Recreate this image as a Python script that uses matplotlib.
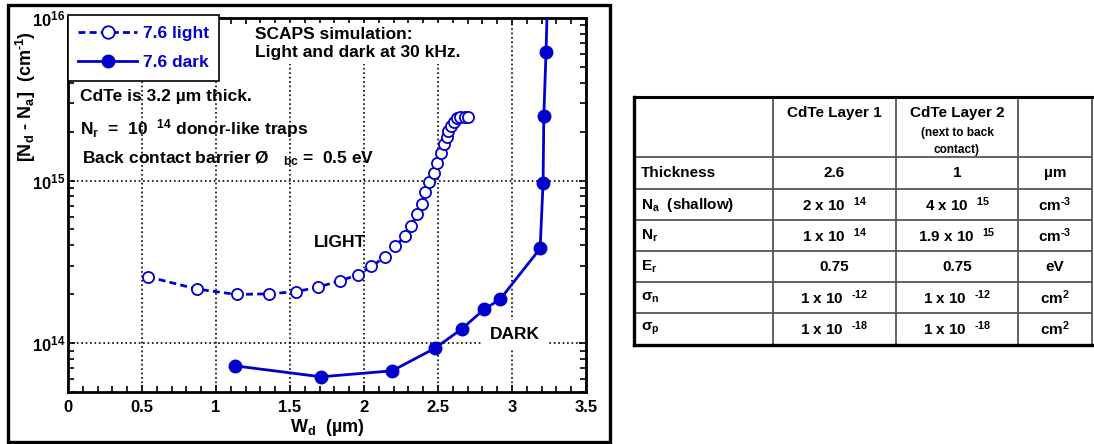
import matplotlib
matplotlib.use("Agg")
import matplotlib.pyplot as plt
from matplotlib.lines import Line2D
from matplotlib.patches import Rectangle
from matplotlib.ticker import MultipleLocator, LogLocator, NullFormatter

plt.rcParams["font.family"] = ["Liberation Sans", "DejaVu Sans"]
plt.rcParams["font.weight"] = "bold"
plt.rcParams["axes.labelweight"] = "bold"
plt.rcParams["mathtext.fontset"] = "custom"
plt.rcParams["mathtext.rm"] = "Liberation Sans:bold"
plt.rcParams["mathtext.bf"] = "Liberation Sans:bold"
plt.rcParams["mathtext.it"] = "Liberation Sans:bold"

BLUE = "#0000cc"
HY = "\u2010"  # plain hyphen for negative exponents

# depletion width (um) and [Nd - Na] (cm^-1), SCAPS at 30 kHz
light_w = [0.54, 0.87, 1.14, 1.36, 1.54, 1.69, 1.84, 1.96, 2.05, 2.14, 2.21, 2.28, 2.32,
           2.36, 2.39, 2.41, 2.44, 2.47, 2.49, 2.52, 2.54, 2.56, 2.57, 2.59, 2.61, 2.63,
           2.65, 2.68, 2.70]
light_n = [2.56e14, 2.15e14, 1.99e14, 2.01e14, 2.07e14, 2.21e14, 2.42e14, 2.63e14, 2.96e14,
           3.38e14, 3.93e14, 4.57e14, 5.27e14, 6.25e14, 7.2e14, 8.5e14, 9.8e14, 1.12e15,
           1.29e15, 1.48e15, 1.67e15, 1.86e15, 2.03e15, 2.18e15, 2.30e15, 2.41e15, 2.47e15,
           2.47e15, 2.45e15]
dark_w = [1.13, 1.71, 2.19, 2.48, 2.66, 2.81, 2.92, 3.19, 3.21, 3.215, 3.23, 3.245]
dark_n = [7.24e13, 6.2e13, 6.75e13, 9.3e13, 1.22e14, 1.61e14, 1.86e14, 3.82e14, 9.7e14,
          2.49e15, 6.2e15, 2e16]

series_labels = ["7.6 light", "7.6 dark"]
x_ticks = [0, 0.5, 1, 1.5, 2, 2.5, 3, 3.5]
x_ticklabels = ["0", "0.5", "1", "1.5", "2", "2.5", "3", "3.5"]
y_ticks = [1e14, 1e15, 1e16]
y_ticklabels = [r"10$^{14}$", r"10$^{15}$", r"10$^{16}$"]

# material parameters table
table_header = ["", "CdTe Layer 1", "CdTe Layer 2", ""]
table_rows = [
    ["Thickness", "2.6", "1", "µm"],
    [r"N$_{a}$  (shallow)", r"2 x 10 $\ ^{14}$", r"4 x 10 $\ ^{15}$", r"cm$^{" + HY + "3}$"],
    [r"N$_{r}$", r"1 x 10 $\ ^{14}$", r"1.9 x 10 $\ ^{15}$", r"cm$^{" + HY + "3}$"],
    [r"E$_{r}$", "0.75", "0.75", "eV"],
    [r"σ$_{n}$", r"1 x 10 $\ ^{" + HY + "12}$", r"1 x 10 $\ ^{" + HY + "12}$", r"cm$^{2}$"],
    [r"σ$_{p}$", r"1 x 10 $\ ^{" + HY + "18}$", r"1 x 10 $\ ^{" + HY + "18}$", r"cm$^{2}$"],
]

W, H = 1094, 444
fig = plt.figure(figsize=(W / 100, H / 100), dpi=100)

# pixel-space overlay for the frame and the table
ov = fig.add_axes([0, 0, 1, 1])
ov.set_xlim(0, W)
ov.set_ylim(H, 0)
ov.axis("off")
ov.add_patch(Rectangle((8, 5), 602, 437, fill=False, lw=2.4, ec="black"))

col_x = [634, 773, 896, 1018, 1092]
row_y = [97, 157, 189, 220, 251, 282, 313, 345]
for x in col_x[1:-1]:
    ov.plot([x, x], [row_y[0], row_y[-1]], color="#555", lw=1.3)
for y in row_y[1:-1]:
    ov.plot([col_x[0], col_x[-1]], [y, y], color="#555", lw=1.3)
ov.plot([col_x[-1], col_x[-1]], [row_y[0], row_y[-1]], color="#555", lw=1.3)
ov.plot([col_x[0], col_x[-1]], [row_y[0], row_y[0]], color="black", lw=2.2)
ov.plot([col_x[0], col_x[-1]], [row_y[-1], row_y[-1]], color="black", lw=2.4)
ov.plot([col_x[0], col_x[0]], [row_y[0], row_y[-1]], color="black", lw=2.4)

for j, txt in enumerate(table_header):
    if txt:
        ov.text((col_x[j] + col_x[j + 1]) / 2, 113, txt, ha="center", va="center", fontsize=11)
ov.text((col_x[2] + col_x[3]) / 2, 133, "(next to back", ha="center", va="center", fontsize=8.5)
ov.text((col_x[2] + col_x[3]) / 2, 150, "contact)", ha="center", va="center", fontsize=8.5)

for i, row in enumerate(table_rows):
    yc = (row_y[i + 1] + row_y[i + 2]) / 2
    ov.text(col_x[0] + 7, yc, row[0], ha="left", va="center", fontsize=11)
    for j in range(1, 4):
        ov.text((col_x[j] + col_x[j + 1]) / 2, yc, row[j], ha="center", va="center", fontsize=11)

# main C-V profile plot
ax = fig.add_axes([68 / W, 1 - 392 / H, 518 / W, 374 / H])
ax.plot(light_w, light_n, color=BLUE, lw=2, ls=(0, (2.5, 1.5)), marker="o", ms=8,
        mfc="white", mec=BLUE, mew=1.3, zorder=4)
ax.plot(dark_w, dark_n, color=BLUE, lw=2, marker="o", ms=9, mfc=BLUE, mec=BLUE, zorder=4)

ax.set_yscale("log")
ax.set_xlim(0, 3.5)
ax.set_ylim(5e13, 1e16)
ax.set_xticks(x_ticks)
ax.set_xticklabels(x_ticklabels, fontsize=12)
ax.xaxis.set_minor_locator(MultipleLocator(0.1))
ax.set_yticks(y_ticks)
ax.set_yticklabels(y_ticklabels, fontsize=12)
ax.yaxis.set_minor_locator(LogLocator(base=10, subs=range(2, 10)))
ax.yaxis.set_minor_formatter(NullFormatter())
ax.tick_params(which="both", direction="in", top=True, right=True, width=1.2)
ax.tick_params(which="major", length=5, pad=6)
ax.tick_params(axis="y", which="major", pad=2)
ax.tick_params(which="minor", length=4)
for sp in ax.spines.values():
    sp.set_linewidth(2)

ax.grid(True, which="major", color="black", ls=":", lw=1.2)

ax.set_xlabel(r"W$_{d}$  (µm)", fontsize=13, labelpad=1)
ax.set_ylabel(r"[N$_{d}$ - N$_{a}$]  (cm$^{" + HY + "1}$)", fontsize=13)
ax.yaxis.set_label_coords(-0.058, 0.79)

handles = [
    Line2D([], [], color=BLUE, lw=2, ls=(0, (2.5, 1.5)), marker="o", ms=9, mfc="white",
           mec=BLUE, mew=1.3),
    Line2D([], [], color=BLUE, lw=2, marker="o", ms=9, mfc=BLUE, mec=BLUE),
]
leg = ax.legend(handles, series_labels, loc="upper left", bbox_to_anchor=(0, 1.008),
                borderaxespad=0, fancybox=False, edgecolor="black", framealpha=1,
                fontsize=12.5, handlelength=3.4, numpoints=1, borderpad=0.6, labelspacing=0.85,
                handletextpad=0.3)
leg.get_frame().set_linewidth(1.2)
for t in leg.get_texts():
    t.set_color(BLUE)

# text boxes sit above the grid but below the spines
ax.text(0.361, 0.975, "SCAPS simulation:\nLight and dark at 30 kHz.", transform=ax.transAxes,
        ha="left", va="top", fontsize=12.5, linespacing=1.2, zorder=2.2,
        bbox=dict(fc="white", ec="none", pad=3))
ax.text(0.023, 0.79, "CdTe is 3.2 µm thick.", transform=ax.transAxes, ha="left",
        va="center", fontsize=12.5, zorder=5)
ax.text(0.023, 0.705, r"N$_{r}$  =  10 $\ ^{14}$ donor-like traps", transform=ax.transAxes,
        ha="left", va="center", fontsize=12.5, zorder=5)
ax.text(0.027, 0.625, r"Back contact barrier Ø   $_{bc}$ =  0.5 eV", transform=ax.transAxes,
        ha="left", va="center", fontsize=12.5, zorder=5)
ax.text(0.525, 0.40, "LIGHT", transform=ax.transAxes, ha="center", va="center",
        fontsize=12.5, zorder=5)
ax.text(0.863, 0.155, "DARK", transform=ax.transAxes, ha="center", va="center",
        fontsize=12.5, zorder=2.2, bbox=dict(fc="white", ec="none", pad=5))

fig.savefig("out.png", dpi=100)
